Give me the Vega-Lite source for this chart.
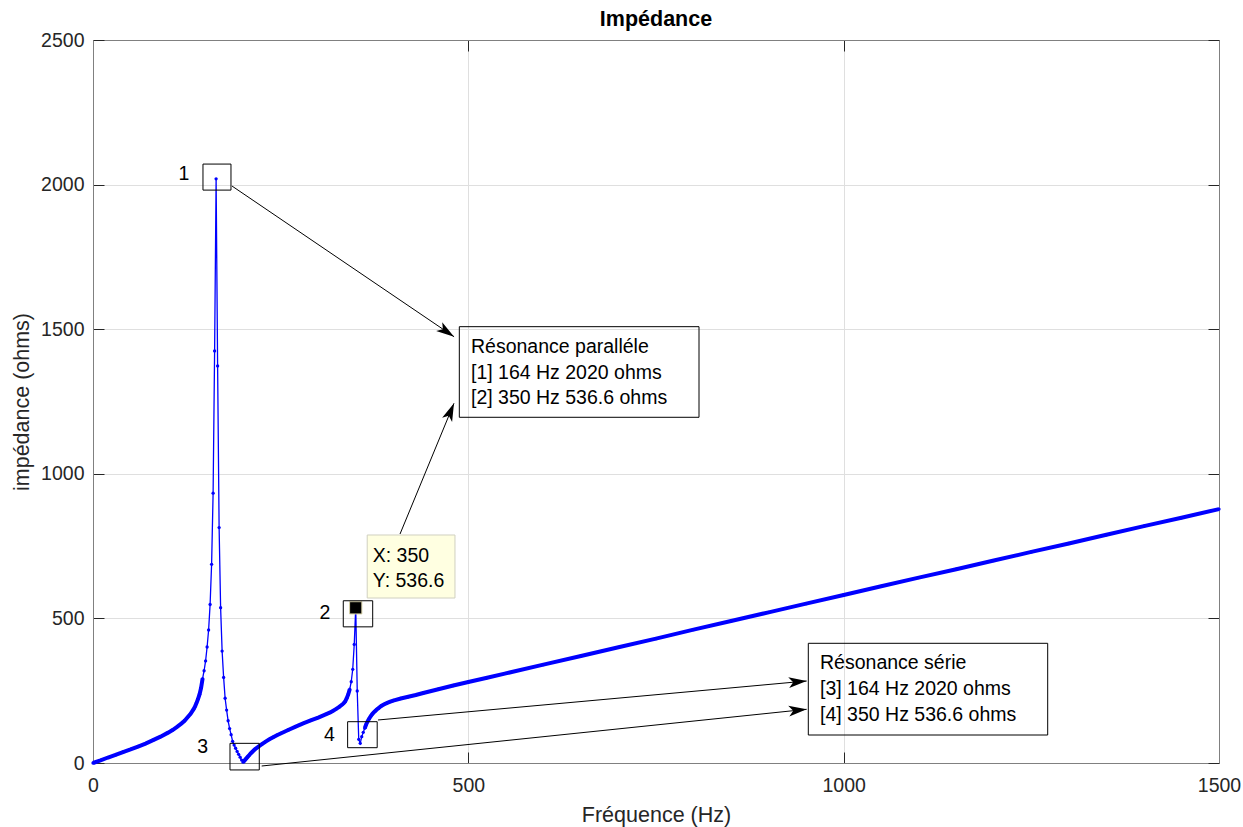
{
  "$schema": "https://vega.github.io/schema/vega-lite/v6.json",
  "width": 1126,
  "height": 723,
  "autosize": {"type": "none"},
  "padding": {"left": 93, "top": 40, "right": 24, "bottom": 64},
  "background": "white",
  "config": {"view": {"stroke": null}, "font": "Liberation Sans"},
  "title": {"text": "Impédance", "font": "Liberation Sans", "fontSize": 21.5, "fontWeight": "bold", "color": "#000000", "anchor": "middle", "frame": "group", "offset": 0},
  "datasets": {
    "curve": [
      {"f": 0, "z": 0}, {"f": 10, "z": 9}, {"f": 20, "z": 19}, {"f": 30, "z": 28}, {"f": 40, "z": 38},
      {"f": 50, "z": 47}, {"f": 60, "z": 57}, {"f": 70, "z": 67}, {"f": 80, "z": 79}, {"f": 90, "z": 91},
      {"f": 100, "z": 105}, {"f": 106, "z": 114}, {"f": 112, "z": 125}, {"f": 118, "z": 137}, {"f": 122, "z": 146},
      {"f": 126, "z": 158}, {"f": 130, "z": 170}, {"f": 134, "z": 186}, {"f": 136, "z": 196}, {"f": 138, "z": 208},
      {"f": 140, "z": 222}, {"f": 142, "z": 238}, {"f": 144, "z": 260}, {"f": 146, "z": 292}, {"f": 148, "z": 319},
      {"f": 150, "z": 353}, {"f": 152, "z": 401}, {"f": 154, "z": 460}, {"f": 156, "z": 548}, {"f": 158, "z": 687},
      {"f": 160, "z": 933}, {"f": 162, "z": 1425}, {"f": 164, "z": 2020}, {"f": 166, "z": 1373}, {"f": 168, "z": 814},
      {"f": 170, "z": 537}, {"f": 172, "z": 387}, {"f": 174, "z": 296}, {"f": 176, "z": 224}, {"f": 178, "z": 183},
      {"f": 180, "z": 146}, {"f": 182, "z": 119}, {"f": 184, "z": 98}, {"f": 186, "z": 75}, {"f": 188, "z": 62},
      {"f": 190, "z": 51}, {"f": 192, "z": 40}, {"f": 194, "z": 30}, {"f": 196, "z": 20}, {"f": 198, "z": 10},
      {"f": 200, "z": 3}, {"f": 202, "z": 9}, {"f": 204, "z": 15}, {"f": 206, "z": 21}, {"f": 208, "z": 27},
      {"f": 210, "z": 33}, {"f": 212, "z": 38}, {"f": 214, "z": 43}, {"f": 216, "z": 48}, {"f": 218, "z": 52},
      {"f": 220, "z": 56}, {"f": 225, "z": 65}, {"f": 230, "z": 74}, {"f": 235, "z": 82}, {"f": 240, "z": 89},
      {"f": 245, "z": 96}, {"f": 250, "z": 102}, {"f": 260, "z": 114}, {"f": 270, "z": 126}, {"f": 280, "z": 137},
      {"f": 290, "z": 147}, {"f": 300, "z": 157}, {"f": 310, "z": 168}, {"f": 316, "z": 175}, {"f": 320, "z": 181},
      {"f": 324, "z": 187}, {"f": 328, "z": 194}, {"f": 332, "z": 202}, {"f": 334, "z": 207}, {"f": 336, "z": 213},
      {"f": 338, "z": 224}, {"f": 340, "z": 237}, {"f": 342, "z": 255}, {"f": 344, "z": 281}, {"f": 346, "z": 324},
      {"f": 348, "z": 410}, {"f": 350, "z": 536.6}, {"f": 352, "z": 249}, {"f": 354, "z": 82}, {"f": 356, "z": 68},
      {"f": 358, "z": 91}, {"f": 360, "z": 106}, {"f": 362, "z": 120}, {"f": 364, "z": 134}, {"f": 366, "z": 145},
      {"f": 368, "z": 154}, {"f": 370, "z": 162}, {"f": 372, "z": 169}, {"f": 374, "z": 175}, {"f": 376, "z": 180},
      {"f": 378, "z": 185}, {"f": 380, "z": 189}, {"f": 384, "z": 197}, {"f": 388, "z": 203}, {"f": 392, "z": 208},
      {"f": 396, "z": 212}, {"f": 400, "z": 216}, {"f": 410, "z": 223}, {"f": 420, "z": 229}, {"f": 430, "z": 235},
      {"f": 440, "z": 242}, {"f": 460, "z": 255}, {"f": 480, "z": 268}, {"f": 500, "z": 280}, {"f": 525, "z": 295},
      {"f": 550, "z": 310}, {"f": 600, "z": 340}, {"f": 650, "z": 370},
      {"f": 700, "z": 400}, {"f": 750, "z": 430}, {"f": 800, "z": 461}, {"f": 850, "z": 491}, {"f": 900, "z": 521},
      {"f": 950, "z": 551}, {"f": 1000, "z": 581}, {"f": 1050, "z": 611}, {"f": 1100, "z": 641}, {"f": 1150, "z": 670},
      {"f": 1200, "z": 700}, {"f": 1250, "z": 730}, {"f": 1300, "z": 759}, {"f": 1350, "z": 789}, {"f": 1400, "z": 819},
      {"f": 1450, "z": 848}, {"f": 1500, "z": 878}
    ],
    "boxes": [
      {"x1": 146.5, "x2": 183.8, "y1": 1981, "y2": 2071},
      {"x1": 333.4, "x2": 372.6, "y1": 470.8, "y2": 561},
      {"x1": 182.5, "x2": 221.5, "y1": -24, "y2": 68},
      {"x1": 339.2, "x2": 378.6, "y1": 52.9, "y2": 142.8},
      {"x1": 488, "x2": 807.3, "y1": 1195.4, "y2": 1508.7},
      {"x1": 952.9, "x2": 1271.8, "y1": 96.8, "y2": 413.9}
    ],
    "tipbox": [
      {"x1": 365.3, "x2": 482.2, "y1": 570.5, "y2": 788.4}
    ],
    "arrows": [
      {"x1": 185.2, "y1": 1995, "x2": 481, "y2": 1474},
      {"x1": 409, "y1": 791.8, "x2": 480.9, "y2": 1243.8},
      {"x1": 379.7, "y1": 148.7, "x2": 950.7, "y2": 283.5},
      {"x1": 224.7, "y1": -10.4, "x2": 950.7, "y2": 185.7}
    ],
    "heads": [
      {"id": "a", "x": 481, "y": 1474},
      {"id": "b", "x": 480.9, "y": 1243.8},
      {"id": "c", "x": 950.7, "y": 283.5},
      {"id": "d", "x": 950.7, "y": 185.7}
    ],
    "notes": [
      {"x": 503.5, "y": 1416.7, "text": "Résonance paralléle"},
      {"x": 503.5, "y": 1329, "text": "[1] 164 Hz 2020 ohms"},
      {"x": 503.5, "y": 1241, "text": "[2] 350 Hz 536.6 ohms"},
      {"x": 968.5, "y": 324, "text": "Résonance série"},
      {"x": 968.5, "y": 235, "text": "[3] 164 Hz 2020 ohms"},
      {"x": 968.5, "y": 146.3, "text": "[4] 350 Hz 536.6 ohms"},
      {"x": 372.6, "y": 696, "text": "X: 350"},
      {"x": 372.6, "y": 609.6, "text": "Y: 536.6"}
    ],
    "labels": [
      {"x": 121.2, "y": 2037, "text": "1"},
      {"x": 309, "y": 519.7, "text": "2"},
      {"x": 146, "y": 54, "text": "3"},
      {"x": 314.8, "y": 96.8, "text": "4"}
    ]
  },
  "layer": [
    {
      "data": {"name": "curve"},
      "mark": {"type": "line", "color": "#0000ff", "strokeWidth": 1.3},
      "encoding": {
        "x": {"field": "f", "type": "quantitative", "scale": {"domain": [0, 1500], "nice": false, "zero": false},
          "axis": {"orient": "bottom", "title": "Fréquence (Hz)", "values": [0, 500, 1000, 1500], "format": "d", "grid": true, "gridColor": "#dfdfdf", "gridWidth": 1,
            "domainColor": "#808080", "domainWidth": 1, "tickColor": "#262626", "tickWidth": 1, "tickSize": -11, "labelFlush": false, "labelOverlap": false,
            "labelFont": "Liberation Sans", "labelFontSize": 19.5, "labelColor": "#262626", "labelPadding": 24,
            "titleFont": "Liberation Sans", "titleFontSize": 21.5, "titleFontWeight": "normal", "titleColor": "#262626", "titlePadding": 10}},
        "y": {"field": "z", "type": "quantitative", "scale": {"domain": [0, 2500], "nice": false, "zero": false},
          "axis": {"orient": "left", "title": "impédance (ohms)", "values": [0, 500, 1000, 1500, 2000, 2500], "format": "d", "grid": true, "gridColor": "#dfdfdf", "gridWidth": 1,
            "domainColor": "#808080", "domainWidth": 1, "tickColor": "#262626", "tickWidth": 1, "tickSize": -11, "labelFlush": false, "labelOverlap": false,
            "labelFont": "Liberation Sans", "labelFontSize": 19.5, "labelColor": "#262626", "labelPadding": 20,
            "titleFont": "Liberation Sans", "titleFontSize": 21.5, "titleFontWeight": "normal", "titleColor": "#262626", "titlePadding": 7}}
      }
    },
    {
      "data": {"name": "curve"},
      "transform": [{"filter": "datum.f <= 146"}],
      "mark": {"type": "line", "color": "#0000ff", "strokeWidth": 4},
      "encoding": {
        "x": {"field": "f", "type": "quantitative", "scale": {"domain": [0, 1500], "nice": false, "zero": false},
          "axis": {"orient": "top", "title": null, "labels": false, "grid": false, "values": [0, 500, 1000, 1500], "domainColor": "#808080", "domainWidth": 1, "tickColor": "#262626", "tickWidth": 1, "tickSize": -11}},
        "y": {"field": "z", "type": "quantitative", "scale": {"domain": [0, 2500], "nice": false, "zero": false},
          "axis": {"orient": "right", "title": null, "labels": false, "grid": false, "values": [0, 500, 1000, 1500, 2000, 2500], "domainColor": "#808080", "domainWidth": 1, "tickColor": "#262626", "tickWidth": 1, "tickSize": -11}}
      }
    },
    {
      "data": {"name": "curve"},
      "transform": [{"filter": "datum.f >= 200 && datum.f <= 342"}],
      "mark": {"type": "line", "color": "#0000ff", "strokeWidth": 4},
      "encoding": {
        "x": {"field": "f", "type": "quantitative", "scale": {"domain": [0, 1500], "nice": false, "zero": false}, "axis": null},
        "y": {"field": "z", "type": "quantitative", "scale": {"domain": [0, 2500], "nice": false, "zero": false}, "axis": null}
      }
    },
    {
      "data": {"name": "curve"},
      "transform": [{"filter": "datum.f >= 362"}],
      "mark": {"type": "line", "color": "#0000ff", "strokeWidth": 4},
      "encoding": {
        "x": {"field": "f", "type": "quantitative", "scale": {"domain": [0, 1500], "nice": false, "zero": false}, "axis": null},
        "y": {"field": "z", "type": "quantitative", "scale": {"domain": [0, 2500], "nice": false, "zero": false}, "axis": null}
      }
    },
    {
      "data": {"name": "curve"},
      "mark": {"type": "point", "filled": true, "color": "#0000ff", "size": 11, "opacity": 1},
      "encoding": {
        "x": {"field": "f", "type": "quantitative", "scale": {"domain": [0, 1500], "nice": false, "zero": false}, "axis": null},
        "y": {"field": "z", "type": "quantitative", "scale": {"domain": [0, 2500], "nice": false, "zero": false}, "axis": null}
      }
    },
    {
      "data": {"name": "curve"},
      "transform": [{"filter": "datum.f == 350"}],
      "mark": {"type": "point", "shape": "square", "filled": true, "fill": "#000000", "stroke": "#d8d2a8", "strokeWidth": 1, "size": 150, "opacity": 1},
      "encoding": {
        "x": {"field": "f", "type": "quantitative", "scale": {"domain": [0, 1500], "nice": false, "zero": false}, "axis": null},
        "y": {"field": "z", "type": "quantitative", "scale": {"domain": [0, 2500], "nice": false, "zero": false}, "axis": null}
      }
    },
    {
      "data": {"name": "boxes"},
      "mark": {"type": "rect", "fillOpacity": 0, "stroke": "#000000", "strokeWidth": 1},
      "encoding": {
        "x": {"field": "x1", "type": "quantitative", "scale": {"domain": [0, 1500], "nice": false, "zero": false}, "axis": null},
        "x2": {"field": "x2"},
        "y": {"field": "y1", "type": "quantitative", "scale": {"domain": [0, 2500], "nice": false, "zero": false}, "axis": null},
        "y2": {"field": "y2"}
      }
    },
    {
      "data": {"name": "tipbox"},
      "mark": {"type": "rect", "fill": "#ffffe1", "stroke": "#d0d0c0", "strokeWidth": 1},
      "encoding": {
        "x": {"field": "x1", "type": "quantitative", "scale": {"domain": [0, 1500], "nice": false, "zero": false}, "axis": null},
        "x2": {"field": "x2"},
        "y": {"field": "y1", "type": "quantitative", "scale": {"domain": [0, 2500], "nice": false, "zero": false}, "axis": null},
        "y2": {"field": "y2"}
      }
    },
    {
      "data": {"name": "arrows"},
      "mark": {"type": "rule", "color": "#000000", "strokeWidth": 1},
      "encoding": {
        "x": {"field": "x1", "type": "quantitative", "scale": {"domain": [0, 1500], "nice": false, "zero": false}, "axis": null},
        "x2": {"field": "x2"},
        "y": {"field": "y1", "type": "quantitative", "scale": {"domain": [0, 2500], "nice": false, "zero": false}, "axis": null},
        "y2": {"field": "y2"}
      }
    },
    {
      "data": {"name": "heads"},
      "transform": [{"filter": "datum.id == 'a'"}],
      "mark": {"type": "point", "shape": "M0,0L-2,-0.6L-1.5,0L-2,0.6Z", "filled": true, "color": "#000000", "size": 324, "angle": 34.2, "opacity": 1},
      "encoding": {
        "x": {"field": "x", "type": "quantitative", "scale": {"domain": [0, 1500], "nice": false, "zero": false}, "axis": null},
        "y": {"field": "y", "type": "quantitative", "scale": {"domain": [0, 2500], "nice": false, "zero": false}, "axis": null}
      }
    },
    {
      "data": {"name": "heads"},
      "transform": [{"filter": "datum.id == 'b'"}],
      "mark": {"type": "point", "shape": "M0,0L-2,-0.6L-1.5,0L-2,0.6Z", "filled": true, "color": "#000000", "size": 324, "angle": -67.5, "opacity": 1},
      "encoding": {
        "x": {"field": "x", "type": "quantitative", "scale": {"domain": [0, 1500], "nice": false, "zero": false}, "axis": null},
        "y": {"field": "y", "type": "quantitative", "scale": {"domain": [0, 2500], "nice": false, "zero": false}, "axis": null}
      }
    },
    {
      "data": {"name": "heads"},
      "transform": [{"filter": "datum.id == 'c'"}],
      "mark": {"type": "point", "shape": "M0,0L-2,-0.6L-1.5,0L-2,0.6Z", "filled": true, "color": "#000000", "size": 324, "angle": -5.2, "opacity": 1},
      "encoding": {
        "x": {"field": "x", "type": "quantitative", "scale": {"domain": [0, 1500], "nice": false, "zero": false}, "axis": null},
        "y": {"field": "y", "type": "quantitative", "scale": {"domain": [0, 2500], "nice": false, "zero": false}, "axis": null}
      }
    },
    {
      "data": {"name": "heads"},
      "transform": [{"filter": "datum.id == 'd'"}],
      "mark": {"type": "point", "shape": "M0,0L-2,-0.6L-1.5,0L-2,0.6Z", "filled": true, "color": "#000000", "size": 324, "angle": -5.9, "opacity": 1},
      "encoding": {
        "x": {"field": "x", "type": "quantitative", "scale": {"domain": [0, 1500], "nice": false, "zero": false}, "axis": null},
        "y": {"field": "y", "type": "quantitative", "scale": {"domain": [0, 2500], "nice": false, "zero": false}, "axis": null}
      }
    },
    {
      "data": {"name": "notes"},
      "mark": {"type": "text", "align": "left", "baseline": "alphabetic", "font": "Liberation Sans", "fontSize": 19.5, "color": "#000000"},
      "encoding": {
        "x": {"field": "x", "type": "quantitative", "scale": {"domain": [0, 1500], "nice": false, "zero": false}, "axis": null},
        "y": {"field": "y", "type": "quantitative", "scale": {"domain": [0, 2500], "nice": false, "zero": false}, "axis": null},
        "text": {"field": "text"}
      }
    },
    {
      "data": {"name": "labels"},
      "mark": {"type": "text", "align": "center", "baseline": "middle", "font": "Liberation Sans", "fontSize": 19.5, "color": "#000000"},
      "encoding": {
        "x": {"field": "x", "type": "quantitative", "scale": {"domain": [0, 1500], "nice": false, "zero": false}, "axis": null},
        "y": {"field": "y", "type": "quantitative", "scale": {"domain": [0, 2500], "nice": false, "zero": false}, "axis": null},
        "text": {"field": "text"}
      }
    }
  ],
  "resolve": {"axis": {"x": "independent", "y": "independent"}}
}
